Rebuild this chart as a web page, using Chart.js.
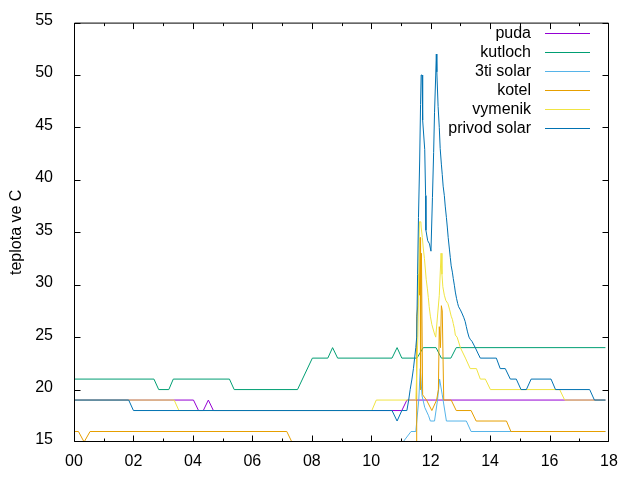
<!DOCTYPE html>
<html>
<head>
<meta charset="utf-8">
<script src="https://cdn.jsdelivr.net/npm/chart.js@4.4.0/dist/chart.umd.min.js"></script>
<style>
html,body{margin:0;padding:0;background:#fff;}
#wrap{width:640px;height:480px;position:relative;}
</style>
</head>
<body>
<div id="wrap"><canvas id="c" width="640" height="480"></canvas></div>
<script>
// ---- data (hours of day, temperature in C) ----
const seriesNames = ['puda', 'kutloch', '3ti solar', 'kotel', 'vymenik', 'privod solar'];
const seriesColors = ['#9400d3', '#009e73', '#56b4e9', '#e69f00', '#f0e442', '#0072b2'];

const hourTickValues = [0, 2, 4, 6, 8, 10, 12, 14, 16, 18];
const hourTickLabels = ['00', '02', '04', '06', '08', '10', '12', '14', '16', '18'];
const hourMinorTicks = [1, 3, 5, 7, 9, 11, 13, 15, 17];
const tempTickValues = [15, 20, 25, 30, 35, 40, 45, 50, 55];

const pudaHours = [0, 4.02, 4.19, 4.35, 4.52, 4.69, 11.03, 11.20, 17.88];
const pudaTemp  = [19, 19, 18, 18, 19, 18, 18, 19, 19];

const kutlochHours = [0, 2.69, 2.85, 3.19, 3.34, 5.23, 5.39, 7.52, 8.02, 8.54, 8.70, 8.87, 10.70, 10.87, 11.03, 11.54, 11.75, 12.18, 12.36, 12.68, 12.86, 17.88];
const kutlochTemp  = [21, 21, 20, 20, 21, 21, 20, 20, 23, 23, 24, 23, 23, 24, 23, 23, 24, 24, 23, 23, 24, 24];

const solar3Hours = [0, 10.90, 11.07, 11.34, 11.50, 11.60, 11.65, 11.71, 11.80, 11.93, 11.99, 12.13, 12.23, 12.30, 12.39, 12.53, 13.20, 13.36, 17.88];
const solar3Temp  = [14, 14, 15, 16, 16, 19, 22, 19.4, 18.3, 17.5, 17, 17, 19, 21, 19.5, 17, 17, 16, 16];

const kotelHours = [0, 0.15, 0.34, 0.54, 7.16, 7.33, 7.50, 11.48, 11.515, 11.53, 11.57, 11.59, 11.62, 11.645, 11.66, 11.69, 11.73, 11.86, 12.04, 12.20, 12.26, 12.29, 12.33, 12.36, 12.39, 12.44, 12.69, 12.86, 13.36, 13.53, 14.55, 14.70, 17.88];
const kotelTemp  = [16, 16, 15, 16, 16, 15, 14, 14, 15, 27, 28, 31, 29, 34.5, 20, 33, 19.5, 19, 18, 19, 20, 26, 24, 28, 27.5, 19, 19, 18, 18, 17, 17, 16, 16];

const vymenikHours = [0, 3.37, 3.53, 10.02, 10.17, 11.50, 11.57, 11.62, 11.67, 11.68, 11.72, 11.75, 11.79, 11.82, 11.85, 11.89, 11.92, 11.95, 11.99, 12.04, 12.12, 12.17, 12.29, 12.35, 12.38, 12.41, 12.46, 12.51, 12.58, 12.64, 12.69, 12.73, 12.76, 12.80, 12.83, 12.89, 13.00, 13.17, 13.33, 13.54, 13.67, 13.84, 14.01, 16.34, 16.51, 17.88];
const vymenikTemp  = [19, 19, 18, 18, 19, 19, 25, 36, 36, 35.5, 34.5, 33.5, 32.5, 31.5, 30.5, 29.6, 28.8, 27.9, 27, 26.2, 25.4, 25, 29, 33, 31, 29.8, 29, 28.5, 28.2, 27.6, 27, 26.7, 26.3, 25.8, 25.2, 25, 24, 23, 22, 22, 21, 21, 20, 20, 19, 19];

const privodHours = [0, 1.84, 2.00, 10.70, 10.87, 11.03, 11.20, 11.26, 11.31, 11.37, 11.42, 11.46, 11.50, 11.53, 11.56, 11.59, 11.63, 11.66, 11.68, 11.71, 11.72, 11.74, 11.80, 11.83, 11.84, 11.90, 11.96, 12.01, 12.06, 12.10, 12.13, 12.17, 12.19, 12.205, 12.21, 12.25, 12.29, 12.32, 12.36, 12.39, 12.42, 12.46, 12.49, 12.53, 12.56, 12.59, 12.63, 12.66, 12.69, 12.73, 12.76, 12.80, 12.83, 12.87, 12.91, 12.94, 13.00, 13.05, 13.11, 13.16, 13.20, 13.24, 13.29, 13.33, 13.39, 13.50, 13.60, 13.67, 14.21, 14.34, 14.51, 14.68, 14.88, 15.04, 15.22, 15.38, 16.05, 16.20, 17.35, 17.51, 17.88];
const privodTemp  = [19, 19, 18, 18, 17, 18, 18, 19, 20, 21, 22, 23, 24, 25, 31, 36.4, 41.8, 47.2, 50, 50, 48.6, 45.7, 42.9, 38.5, 35.2, 34.2, 33.9, 33.2, 38.3, 42.6, 46.4, 50, 52, 52, 50.3, 47, 45, 43, 41.5, 40.5, 39.4, 38.5, 37.5, 36.4, 35.5, 34.5, 33.4, 32.6, 31.8, 31.2, 30.6, 29.9, 29.3, 28.7, 28.2, 27.9, 27.6, 27.3, 26.9, 26.5, 26, 25.5, 25, 24.8, 24.6, 24, 23.4, 23, 23, 22, 22, 21, 21, 20, 20, 21, 21, 20, 20, 19, 19];

// ---- build chart ----
const seriesHours = [pudaHours, kutlochHours, solar3Hours, kotelHours, vymenikHours, privodHours];
const seriesTemps = [pudaTemp, kutlochTemp, solar3Temp, kotelTemp, vymenikTemp, privodTemp];

const FONT = 'Liberation Sans';
const FONT_SIZE = 16;

const datasets = seriesNames.map((name, i) => ({
  label: name,
  data: seriesHours[i].map((h, k) => ({x: h, y: seriesTemps[i][k]})),
  borderColor: seriesColors[i],
  backgroundColor: seriesColors[i],
  borderWidth: 1,
  pointRadius: 0,
  pointHoverRadius: 0,
  tension: 0,
  fill: false,
  clip: 0,
  order: seriesNames.length - i
}));

const gnuFrame = {
  id: 'gnuFrame',
  afterDatasetsDraw(chart) {
    const {ctx, chartArea: a, scales} = chart;
    const xs = scales.x, ys = scales.y;
    const L = a.left + 0.5, R = a.right - 0.5, T = a.top + 0.5, B = a.bottom - 0.5;
    const MAJOR = 6, MINOR = 3;
    ctx.save();
    ctx.strokeStyle = '#000';
    ctx.lineWidth = 1;
    ctx.beginPath();
    ctx.rect(L, T, R - L, B - T);
    tempTickValues.forEach(v => {
      const p = Math.min(Math.round(ys.getPixelForValue(v)) + 0.5, B);
      ctx.moveTo(L, p); ctx.lineTo(L + MAJOR, p);
      ctx.moveTo(R, p); ctx.lineTo(R - MAJOR, p);
    });
    const drawX = (h, len) => {
      const p = Math.min(Math.round(xs.getPixelForValue(h)) + 0.5, R);
      ctx.moveTo(p, B); ctx.lineTo(p, B - len);
      ctx.moveTo(p, T); ctx.lineTo(p, T + len);
    };
    hourTickValues.forEach(h => drawX(h, MAJOR));
    hourMinorTicks.forEach(h => drawX(h, MINOR));
    ctx.stroke();
    ctx.restore();
  }
};

const gnuKey = {
  id: 'gnuKey',
  afterDraw(chart) {
    const ctx = chart.ctx;
    ctx.save();
    ctx.font = FONT_SIZE + 'px "' + FONT + '"';
    ctx.textAlign = 'right';
    ctx.textBaseline = 'alphabetic';
    ctx.fillStyle = '#000';
    chart.data.datasets.forEach((ds, i) => {
      const yy = 33.5 + i * 19;
      ctx.fillText(ds.label, 531, yy + 4);
      ctx.strokeStyle = ds.borderColor;
      ctx.lineWidth = 1;
      ctx.beginPath();
      ctx.moveTo(545, yy);
      ctx.lineTo(590, yy);
      ctx.stroke();
    });
    ctx.restore();
  }
};

Chart.defaults.font.family = FONT;
Chart.defaults.font.size = FONT_SIZE;
Chart.defaults.color = '#000';

new Chart(document.getElementById('c'), {
  type: 'line',
  data: {datasets},
  options: {
    responsive: false,
    animation: false,
    events: [],
    layout: {padding: {left: 0, right: 31, top: 19, bottom: 0}},
    plugins: {legend: {display: false}, tooltip: {enabled: false}},
    scales: {
      x: {
        type: 'linear',
        min: 0, max: 18,
        grid: {display: false},
        border: {display: false},
        afterBuildTicks: s => { s.ticks = hourTickValues.map(v => ({value: v})); },
        ticks: {
          padding: 2,
          maxRotation: 0,
          autoSkip: false,
          callback: v => hourTickLabels[hourTickValues.indexOf(v)]
        },
        afterFit: s => { s.height = 38; }
      },
      y: {
        type: 'linear',
        min: 15, max: 55,
        grid: {display: false},
        border: {display: false},
        afterBuildTicks: s => { s.ticks = tempTickValues.map(v => ({value: v})); },
        ticks: {padding: 13, labelOffset: -2},
        title: {display: true, text: 'teplota ve C', padding: {top: 7, bottom: 0}},
        afterFit: s => { s.width = 74; }
      }
    }
  },
  plugins: [gnuFrame, gnuKey]
});
</script>
</body>
</html>
